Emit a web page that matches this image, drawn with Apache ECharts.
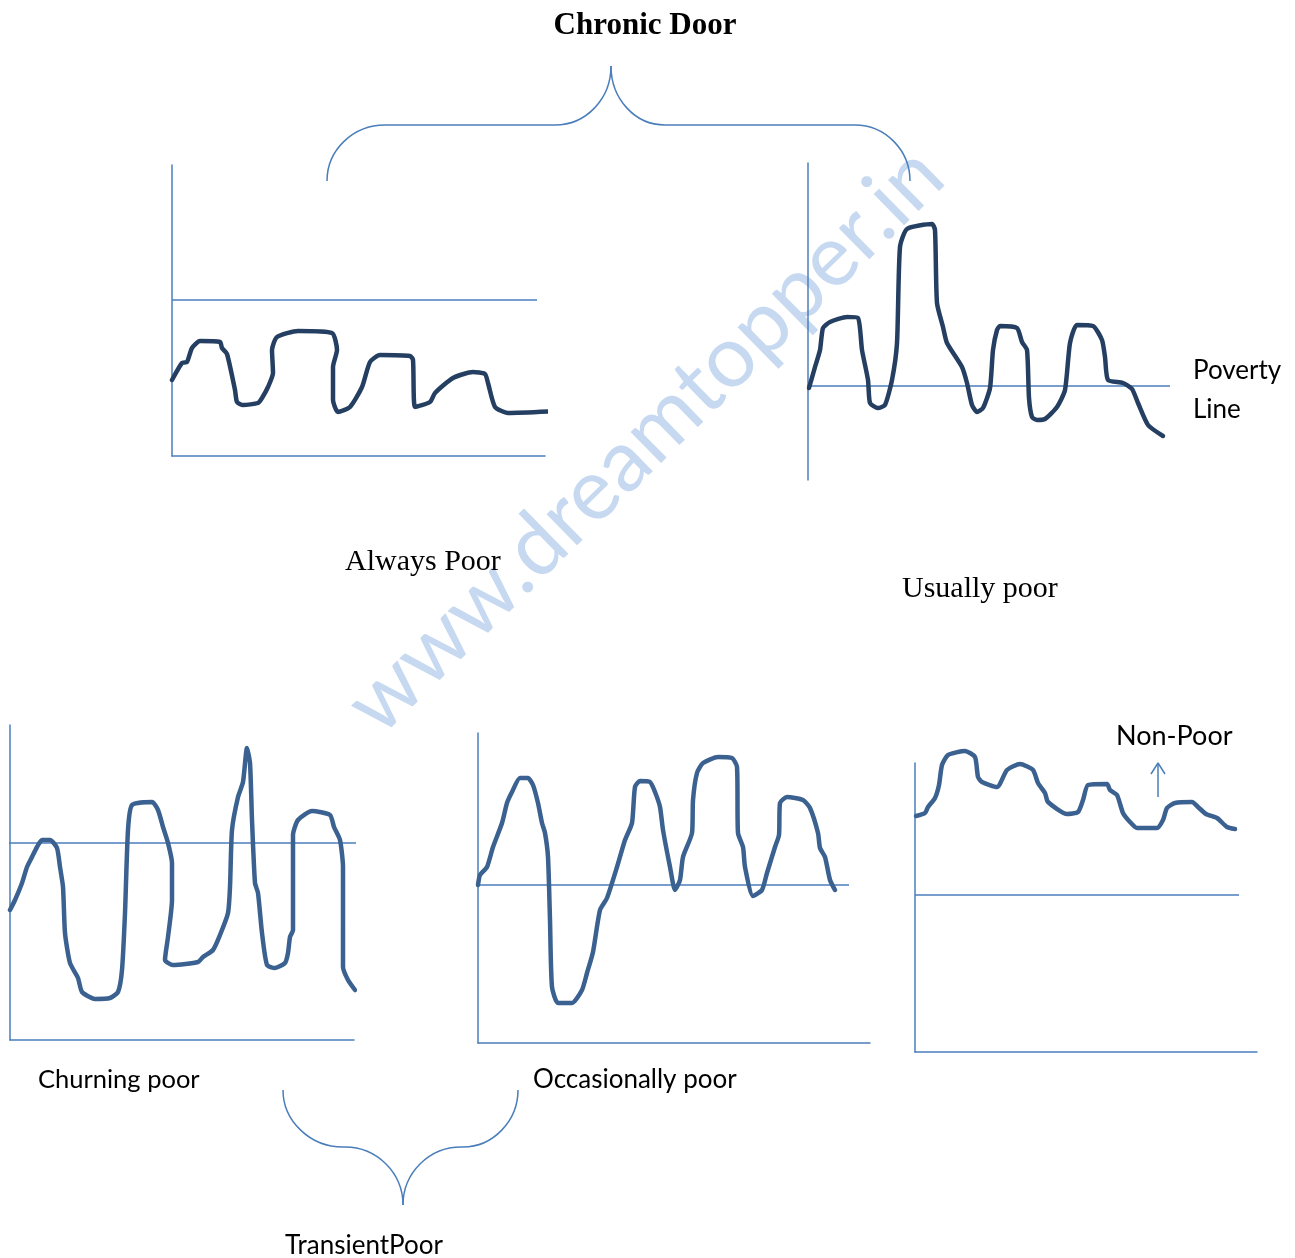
<!DOCTYPE html>
<html>
<head>
<meta charset="utf-8">
<script src="https://cdn.jsdelivr.net/npm/echarts@6/dist/echarts.min.js"></script>
<style>
html,body{margin:0;padding:0;background:#fff;}
#chart{width:1295px;height:1258px;}
</style>
</head>
<body>
<div id="chart"></div>
<script>
// ---- data (x: distance along time axis, y: income above bottom axis) ----
const alwaysPoor = [[0,76],[10,93],[15,94],[20,108],[28,115],[48,114],[50,108],[55,102],[63,66],[65,54],[71,51],[86,53],[90,58],[96,69],[101,83],[100,106],[105,119],[126,125],[160,123],[165,106],[161,89],[161,56],[166,44],[178,49],[190,69],[198,94],[208,101],[238,100],[241,96],[243,49],[258,54],[263,63],[281,78],[301,84],[313,82],[316,73],[323,49],[336,43],[388,45]];
const usuallyPoor = [[1,92],[7,113],[12,130],[15,152],[22,158],[39,163],[50,162],[54,130],[60,100],[62,77],[70,72],[77,75],[84,100],[89,137],[92,233],[99,251],[124,256],[127,250],[129,177],[135,153],[139,137],[154,113],[159,97],[164,75],[169,68],[175,72],[182,92],[185,130],[189,150],[192,154],[209,152],[214,138],[219,130],[221,82],[224,63],[229,60],[237,61],[249,73],[257,90],[262,137],[269,155],[285,154],[294,140],[297,123],[300,100],[315,97],[324,91],[330,77],[340,55],[355,44]];
const churningPoor = [[0,130],[5,140],[12,157],[17,173],[22,183],[27,193],[32,200],[40,200],[47,192],[50,173],[53,153],[55,107],[60,77],[68,62],[72,48],[85,41],[100,42],[108,48],[112,70],[115,127],[118,210],[122,235],[142,238],[148,230],[153,213],[158,197],[162,177],[162,140],[158,103],[155,80],[163,75],[188,78],[193,83],[203,90],[210,105],[218,127],[220,153],[222,210],[228,243],[233,258],[237,292],[240,277],[242,220],[245,157],[248,147],[252,107],[257,75],[265,72],[275,77],[278,87],[280,103],[283,110],[283,205],[288,220],[302,229],[320,225],[324,213],[330,200],[333,173],[333,73],[338,60],[345,50]];
const occasionallyPoor = [[0,158],[2,168],[9,176],[15,196],[24,220],[29,240],[34,251],[42,265],[50,265],[55,258],[60,240],[64,220],[67,210],[70,186],[72,123],[74,56],[80,40],[94,40],[104,53],[109,70],[115,91],[122,133],[129,145],[139,176],[147,203],[154,220],[157,256],[162,262],[172,261],[177,251],[182,236],[185,213],[192,176],[197,153],[202,163],[205,186],[214,210],[215,243],[219,270],[225,280],[240,286],[254,285],[259,276],[260,210],[265,196],[267,176],[275,147],[284,153],[289,170],[297,196],[301,208],[302,240],[309,246],[325,243],[332,235],[340,210],[342,195],[347,186],[352,163],[357,153]];
const nonPoor = [[1,236],[10,239],[13,245],[20,254],[24,267],[27,287],[33,297],[50,301],[60,295],[63,275],[67,270],[82,265],[92,282],[105,288],[118,282],[123,269],[130,259],[133,250],[152,238],[163,240],[168,252],[173,267],[192,268],[195,262],[202,257],[208,239],[215,230],[222,224],[242,224],[248,232],[252,244],[260,249],[277,250],[283,245],[291,238],[302,234],[312,225],[320,223]];

// poverty lines
const povertyAlways = [[0,156],[365,156]];
const povertyUsually = [[-3,94],[362,94]];
const povertyChurning = [[-2,197],[364,197]];
const povertyOccasionally = [[-1,158],[371,158]];
const povertyNonPoor = [[0,157],[324,157]];
// arrow in Non-Poor panel
const nonPoorArrowShaft = [[243,255],[243,289]];
const nonPoorArrowHead = [[236,278],[243,289],[250,278]];

// labels
const titleText = 'Chronic Door';
const labelAlways = 'Always Poor';
const labelUsually = 'Usually poor';
const labelChurning = 'Churning poor';
const labelOccasionally = 'Occasionally poor';
const labelTransient = 'TransientPoor';
const labelNonPoor = 'Non-Poor';
const labelPoverty = ['Poverty', 'Line'];
const watermark = 'www.dreamtopper.in';

// ---- layout ----
const panels = [
  {left:172, top:165, width:373, height:291, xmax:373, ymax:291, bottomAxis:true, data:alwaysPoor, pov:povertyAlways, color:'#253f62'},
  {left:808, top:163, width:362, height:317, xmax:362, ymax:317, bottomAxis:false, data:usuallyPoor, pov:povertyUsually, color:'#253f62'},
  {left:10, top:725, width:344, height:315, xmax:344, ymax:315, bottomAxis:true, data:churningPoor, pov:povertyChurning, color:'#3a6190'},
  {left:478, top:733, width:392, height:310, xmax:392, ymax:310, bottomAxis:true, data:occasionallyPoor, pov:povertyOccasionally, color:'#3a6190'},
  {left:915, top:763, width:342, height:289, xmax:342, ymax:289, bottomAxis:true, data:nonPoor, pov:povertyNonPoor, color:'#3a6190'}
];
const axisBlue = '#4a7ebb';

const grid = [], xAxis = [], yAxis = [], series = [];
panels.forEach((p, i) => {
  grid.push({left:p.left, top:p.top, width:p.width, height:p.height, containLabel:false});
  xAxis.push({type:'value', gridIndex:i, min:0, max:p.xmax, axisLine:{show:p.bottomAxis, onZero:false, lineStyle:{color:axisBlue, width:1.5}}, axisTick:{show:false}, axisLabel:{show:false}, splitLine:{show:false}});
  yAxis.push({type:'value', gridIndex:i, min:0, max:p.ymax, axisLine:{show:true, onZero:false, lineStyle:{color:axisBlue, width:1.5}}, axisTick:{show:false}, axisLabel:{show:false}, splitLine:{show:false}});
  series.push({type:'line', xAxisIndex:i, yAxisIndex:i, data:p.pov, showSymbol:false, clip:false, silent:true, lineStyle:{color:axisBlue, width:1.5}, z:2});
  series.push({type:'line', xAxisIndex:i, yAxisIndex:i, data:p.data, showSymbol:false, clip:false, smooth:0.2, silent:true, lineStyle:{color:p.color, width:4.5, cap:'round', join:'round'}, z:3});
});
series.push({type:'line', xAxisIndex:4, yAxisIndex:4, data:nonPoorArrowShaft, showSymbol:false, clip:false, lineStyle:{color:axisBlue, width:1.5}});
series.push({type:'line', xAxisIndex:4, yAxisIndex:4, data:nonPoorArrowHead, showSymbol:false, clip:false, lineStyle:{color:axisBlue, width:1.5}});

const serif = '"Liberation Serif", "Times New Roman", serif';
const sans = 'Lato, "Noto Sans", sans-serif';
function txt(t, x, y, font, size, weight, align){
  return {type:'text', x:x, y:y, z:10, style:{text:t, fontFamily:font, fontSize:size, fontWeight:weight||'normal', fill:'#000', textAlign:align||'left', textVerticalAlign:'middle'}};
}
const braceStyle = {fill:null, stroke:axisBlue, lineWidth:1.5};
function bz(x1,y1,cx1,cy1,cx2,cy2,x2,y2){
  return {type:'bezierCurve', z:5, shape:{x1:x1,y1:y1,cpx1:cx1,cpy1:cy1,cpx2:cx2,cpy2:cy2,x2:x2,y2:y2}, style:braceStyle};
}
function ln(x1,y1,x2,y2){
  return {type:'line', z:5, shape:{x1:x1,y1:y1,x2:x2,y2:y2}, style:braceStyle};
}

const graphic = [
  {type:'text', x:645, y:440, rotation:0.775, z:0, style:{text:watermark, fontFamily:sans, fontSize:86, fill:'#c6d9f0', textAlign:'center', textVerticalAlign:'middle'}},
  // top brace (Chronic)
  bz(327,181, 327,150, 353,125, 385,125),
  ln(385,125, 555,125),
  bz(555,125, 586,125, 611,99, 611,66),
  bz(611,66, 611,99, 635,125, 665,125),
  ln(665,125, 855,125),
  bz(855,125, 885,125, 910,150, 910,181),
  // bottom brace (Transient)
  bz(283,1090, 283,1121, 310,1147, 343,1147),
  ln(343,1147, 345,1147),
  bz(345,1147, 377,1147, 403,1173, 403,1205),
  bz(403,1205, 403,1173, 429,1147, 461,1147),
  ln(461,1147, 463,1147),
  bz(463,1147, 493,1147, 518,1121, 518,1090),
  txt(titleText, 645, 26, serif, 31, 'bold', 'center'),
  txt(labelAlways, 345, 562, serif, 30),
  txt(labelUsually, 902, 589, serif, 30),
  txt(labelPoverty[0], 1193, 371, sans, 26),
  txt(labelPoverty[1], 1193, 410, sans, 26),
  txt(labelNonPoor, 1116, 736, sans, 27),
  txt(labelChurning, 38, 1080, sans, 25.5),
  txt(labelOccasionally, 533, 1080, sans, 26),
  txt(labelTransient, 285, 1246, sans, 26)
];

const chart = echarts.init(document.getElementById('chart'), null, {renderer:'canvas'});
chart.setOption({animation:false, backgroundColor:'#fff', grid, xAxis, yAxis, series, graphic});
</script>
</body>
</html>
